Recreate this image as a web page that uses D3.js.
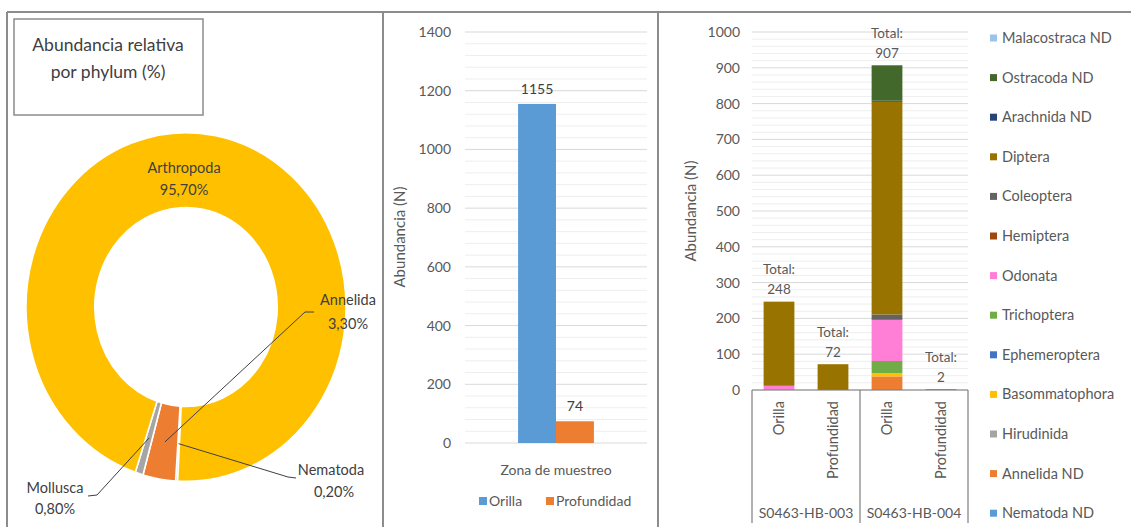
<!DOCTYPE html>
<html>
<head>
<meta charset="utf-8">
<script src="https://cdn.jsdelivr.net/npm/d3@7"></script>
<style>
  body { margin: 0; background: #fff; }
  svg { font-family: Lato, "Open Sans", sans-serif; }
</style>
</head>
<body>
<script>
// ---- datos ----
const phyla = ["Nematoda", "Annelida", "Mollusca", "Arthropoda"];
const phylumPct = [0.2, 3.3, 0.8, 95.7];
const phylumColors = ["#5B9BD5", "#ED7D31", "#A5A5A5", "#FFC000"];

const zonas = ["Orilla", "Profundidad"];
const abundZona = [1155, 74];
const zonaColors = ["#5B9BD5", "#ED7D31"];

const muestras = ["S0463-HB-003", "S0463-HB-004"];
// taxa de abajo hacia arriba en la pila
const taxa = ["Nematoda ND", "Annelida ND", "Hirudinida", "Basommatophora", "Ephemeroptera",
  "Trichoptera", "Odonata", "Hemiptera", "Coleoptera", "Diptera", "Arachnida ND",
  "Ostracoda ND", "Malacostraca ND"];
const taxaColors = ["#5B9BD5", "#ED7D31", "#A5A5A5", "#FFC000", "#4472C4",
  "#70AD47", "#FF7FD6", "#9E480E", "#636363", "#997300", "#264478",
  "#43682B", "#9DC3E6"];
// columnas: HB-003 Orilla, HB-003 Profundidad, HB-004 Orilla, HB-004 Profundidad
const valoresTaxa = [
  [0, 0, 0, 0],
  [0, 0, 38, 0],
  [0, 0, 0, 0],
  [0, 0, 9, 0],
  [0, 0, 0, 0],
  [0, 0, 34, 0],
  [12, 0, 115, 0],
  [0, 0, 0, 0],
  [2, 0, 15, 0],
  [232, 72, 594, 2],
  [0, 0, 3, 0],
  [0, 0, 99, 0],
  [2, 0, 0, 0]
];

const W = 1131, H = 527;
const svg = d3.select("body").append("svg")
  .attr("width", W).attr("height", H)
  .style("background", "#fff");

const textDark = "#404040";
const tickGray = "#595959";

// ---- marcos ----
const frame = svg.append("g").attr("stroke", "#8c8c8c").attr("stroke-width", 2);
frame.append("line").attr("x1", 7).attr("x2", W).attr("y1", 12).attr("y2", 12);
[7, 383, 658].forEach(x => {
  frame.append("line").attr("x1", x).attr("x2", x).attr("y1", 12).attr("y2", H);
});

// ---- dona ----
function drawDonut() {
  const cx = 186, cy = 307, r = 160, sy = 1.09;
  const box = svg.append("g");
  box.append("rect")
    .attr("x", 14).attr("y", 19).attr("width", 189).attr("height", 96)
    .attr("fill", "#fff").attr("stroke", "#8c8c8c").attr("stroke-width", 1.5);
  box.append("text").attr("x", 108).attr("y", 51).attr("text-anchor", "middle")
    .attr("font-size", 17.5).attr("fill", textDark).text("Abundancia relativa");
  box.append("text").attr("x", 108).attr("y", 78).attr("text-anchor", "middle")
    .attr("font-size", 17.5).attr("fill", textDark).text("por phylum (%)");

  const data = phyla.map((p, i) => ({ name: p, value: phylumPct[i], color: phylumColors[i] }));
  const start = 183 * Math.PI / 180;
  const pie = d3.pie().sort(null).value(d => d.value)
    .startAngle(start).endAngle(start + 2 * Math.PI);
  const arcs = pie(data);
  const arc = d3.arc().innerRadius(r * 0.57).outerRadius(r);

  const g = svg.append("g").attr("transform", `translate(${cx},${cy}) scale(1,${sy})`);
  g.selectAll("path").data(arcs).join("path")
    .attr("d", arc)
    .attr("fill", d => d.data.color)
    .attr("stroke", "#fff").attr("stroke-width", 1.6);

  const pct = v => v.toFixed(2).replace(".", ",") + "%";
  const centro = i => {
    const c = arc.centroid(arcs[i]);
    return [cx + c[0], cy + c[1] * sy];
  };

  const lbl = svg.append("g").attr("font-size", 14.5).attr("fill", textDark).attr("text-anchor", "middle");
  // Arthropoda (dentro)
  lbl.append("text").attr("x", 184).attr("y", 173).text(phyla[3]);
  lbl.append("text").attr("x", 184).attr("y", 195).text(pct(phylumPct[3]));

  const leaders = svg.append("g").attr("fill", "none").attr("stroke", textDark).attr("stroke-width", 1);
  // Annelida
  let c = centro(1);
  leaders.append("polyline").attr("points", `${c[0]},${c[1]} 305,312 314,312`);
  lbl.append("text").attr("x", 348).attr("y", 305).text(phyla[1]);
  lbl.append("text").attr("x", 348).attr("y", 329).text(pct(phylumPct[1]));
  // Nematoda
  c = centro(0);
  leaders.append("polyline").attr("points", `${c[0]},${c[1]} 288,477 296,478`);
  lbl.append("text").attr("x", 331).attr("y", 475).text(phyla[0]);
  lbl.append("text").attr("x", 334).attr("y", 497).text(pct(phylumPct[0]));
  // Mollusca
  c = centro(2);
  leaders.append("polyline").attr("points", `${c[0]},${c[1]} 97,495 88,496`);
  lbl.append("text").attr("x", 55).attr("y", 493).text(phyla[2]);
  lbl.append("text").attr("x", 55).attr("y", 514).text(pct(phylumPct[2]));
}

// ---- rejilla comun ----
function grid(g, y, x0, x1, max, major, minor) {
  g.append("g").selectAll("line").data(d3.range(0, max + 0.001, minor).filter(v => v % major !== 0))
    .join("line")
    .attr("x1", x0).attr("x2", x1).attr("y1", d => y(d)).attr("y2", d => y(d))
    .attr("stroke", "#eeeeee").attr("stroke-width", 1);
  g.append("g").selectAll("line").data(d3.range(0, max + 0.001, major))
    .join("line")
    .attr("x1", x0).attr("x2", x1).attr("y1", d => y(d)).attr("y2", d => y(d))
    .attr("stroke", "#d9d9d9").attr("stroke-width", 1);
}

function yAxis(g, y, x, max, step) {
  const ax = g.append("g")
    .attr("transform", `translate(${x},0)`)
    .call(d3.axisLeft(y).tickValues(d3.range(0, max + 0.001, step))
      .tickFormat(d3.format("d")).tickSize(0).tickPadding(0));
  ax.select(".domain").remove();
  ax.selectAll("text").attr("fill", tickGray).attr("font-size", 14)
    .attr("font-family", "Lato, sans-serif");
}

// ---- barras por zona ----
function drawZona() {
  const g = svg.append("g");
  const x0 = 465, x1 = 647;
  const y = d3.scaleLinear().domain([0, 1400]).range([443, 32]);
  grid(g, y, x0, x1, 1400, 200, 40);
  yAxis(g, y, 451, 1400, 200);

  const x = d3.scaleBand().domain(["Zona de muestreo"]).range([x0, x1]).paddingOuter(0.7);
  const xs = d3.scaleBand().domain(zonas).range([0, x.bandwidth()]);
  const data = zonas.map((z, i) => ({ zona: z, v: abundZona[i], color: zonaColors[i] }));
  const cat = x("Zona de muestreo");

  g.selectAll("rect.bar").data(data).join("rect")
    .attr("class", "bar")
    .attr("x", d => cat + xs(d.zona))
    .attr("width", xs.bandwidth())
    .attr("y", d => y(d.v))
    .attr("height", d => y(0) - y(d.v))
    .attr("fill", d => d.color);

  g.selectAll("text.val").data(data).join("text")
    .attr("class", "val")
    .attr("x", d => cat + xs(d.zona) + xs.bandwidth() / 2)
    .attr("y", d => y(d.v) - 10)
    .attr("text-anchor", "middle").attr("font-size", 14).attr("fill", textDark)
    .text(d => d.v);

  const xa = g.append("g").attr("transform", "translate(0,443)")
    .call(d3.axisBottom(x).tickSize(0).tickPadding(22));
  xa.select(".domain").remove();
  xa.selectAll("text").attr("fill", tickGray).attr("font-size", 14)
    .attr("font-family", "Lato, sans-serif");

  g.append("text")
    .attr("transform", "translate(405,237) rotate(-90)")
    .attr("text-anchor", "middle").attr("font-size", 15).attr("fill", tickGray)
    .text("Abundancia (N)");

  const leg = g.append("g").attr("font-size", 14).attr("fill", tickGray);
  const legX = [479, 546];
  data.forEach((d, i) => {
    leg.append("rect").attr("x", legX[i]).attr("y", 497).attr("width", 8).attr("height", 8).attr("fill", d.color);
    leg.append("text").attr("x", legX[i] + 10).attr("y", 506).text(d.zona);
  });
}

// ---- barras apiladas ----
function drawApiladas() {
  const g = svg.append("g");
  const x0 = 752, x1 = 968, base = 390;
  const y = d3.scaleLinear().domain([0, 1000]).range([base, 32]);
  grid(g, y, x0, x1, 1000, 100, 20);
  yAxis(g, y, 740, 1000, 100);

  const cols = [];
  muestras.forEach(m => zonas.forEach(z => cols.push({ key: m + "|" + z, muestra: m, zona: z })));
  cols.forEach((c, j) => taxa.forEach((t, i) => { c[t] = valoresTaxa[i][j]; }));

  const x = d3.scaleBand().domain(cols.map(c => c.key)).range([x0, x1])
    .paddingInner(0.43).paddingOuter(0.215);
  const series = d3.stack().keys(taxa)(cols);

  g.append("g").selectAll("g").data(series).join("g")
    .attr("fill", (d, i) => taxaColors[i])
    .selectAll("rect").data(d => d).join("rect")
    .attr("x", d => x(d.data.key))
    .attr("width", x.bandwidth())
    .attr("y", d => y(d[1]))
    .attr("height", d => y(d[0]) - y(d[1]));

  const totals = cols.map(c => ({ key: c.key, t: d3.sum(taxa, k => c[k]) }));
  const tl = g.append("g").attr("font-size", 13.5).attr("fill", tickGray).attr("text-anchor", "middle");
  totals.forEach(d => {
    const cxm = x(d.key) + x.bandwidth() / 2;
    tl.append("text").attr("x", cxm).attr("y", y(d.t) - 27).text("Total:");
    tl.append("text").attr("x", cxm).attr("y", y(d.t) - 7).text(d.t);
  });

  // eje de categorias en dos niveles
  const ax = g.append("g").attr("stroke", "#7f7f7f").attr("stroke-width", 1.2);
  ax.append("line").attr("x1", x0).attr("x2", x1).attr("y1", base).attr("y2", base);
  const mid = x(cols[1].key) + x.bandwidth() + x.step() * 0.43 / 2;
  [x0, mid, x1].forEach(v => ax.append("line").attr("x1", v).attr("x2", v).attr("y1", base).attr("y2", 523));

  g.selectAll("text.zona").data(cols).join("text")
    .attr("class", "zona")
    .attr("transform", d => `translate(${x(d.key) + x.bandwidth() / 2 + 5},401) rotate(-90)`)
    .attr("text-anchor", "end").attr("font-size", 14.5).attr("fill", tickGray)
    .text(d => d.zona);

  g.selectAll("text.muestra").data(muestras).join("text")
    .attr("class", "muestra")
    .attr("x", (d, i) => i === 0 ? (x0 + mid) / 2 : (mid + x1) / 2)
    .attr("y", 518)
    .attr("text-anchor", "middle").attr("font-size", 14).attr("fill", tickGray)
    .text(d => d);

  g.append("text")
    .attr("transform", "translate(696,211) rotate(-90)")
    .attr("text-anchor", "middle").attr("font-size", 15).attr("fill", tickGray)
    .text("Abundancia (N)");

  // leyenda (serie superior primero)
  const leg = g.append("g").attr("font-size", 14.5).attr("fill", tickGray);
  const orden = d3.range(taxa.length).reverse();
  orden.forEach((ti, k) => {
    const yy = 38 + k * 39.6;
    leg.append("rect").attr("x", 990).attr("y", yy - 3.5).attr("width", 7).attr("height", 7).attr("fill", taxaColors[ti]);
    leg.append("text").attr("x", 1002).attr("y", yy + 5).text(taxa[ti]);
  });
}

drawDonut();
drawZona();
drawApiladas();
</script>
</body>
</html>
